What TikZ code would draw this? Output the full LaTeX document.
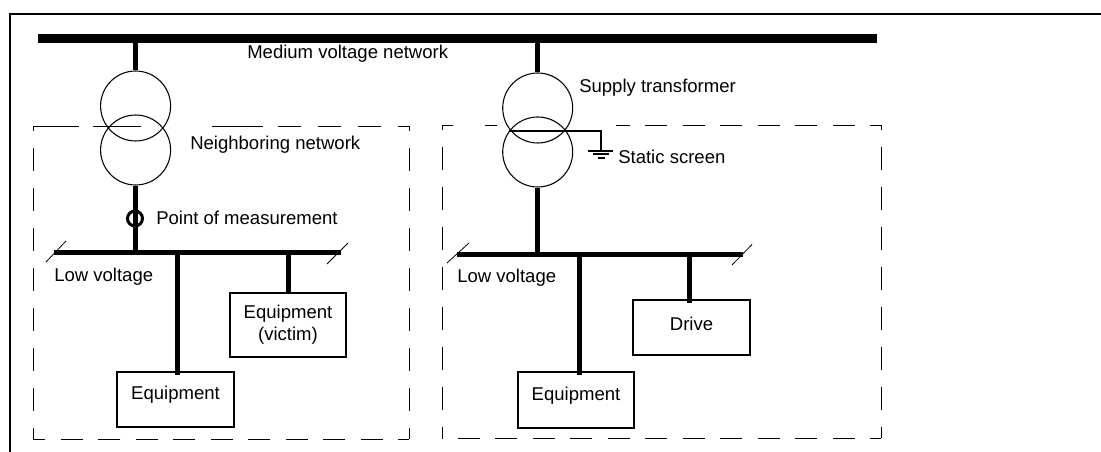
\documentclass[tikz,border=0pt]{standalone}
\usepackage{fontspec}
\setmainfont{Liberation Sans}
\usetikzlibrary{positioning}
\tikzset{
  lbl/.style={inner sep=0pt,anchor=west,font=\fontsize{13.9}{16.5}\selectfont},
  unit/.style={rectangle,draw,line width=1.5pt,inner sep=0pt,align=center,font=\fontsize{13.9}{16.5}\selectfont},
  coil/.style={circle,draw,line width=0.8pt,inner sep=0pt,minimum size=52.5pt},
  bus/.style={rectangle,fill=black,inner sep=0pt},
  stem/.style={line width=3.75pt},
  tick/.style={line width=0.6pt},
  zone/.style={line width=0.65pt},
  zonev/.style={zone,dash pattern=on 17.25pt off 12.75pt,dash phase=9pt},
  zoneh/.style={zone,dash pattern=on 16.5pt off 11.6pt,dash phase=8.25pt},
}
\begin{document}
\begin{tikzpicture}[x=0.75pt,y=-0.75pt]
  \useasboundingbox (0,0) rectangle (1101,452);
  \draw[line width=1.5pt] (1101,14) -- (10,14) -- (10,452);
  % busbars
  \node[bus,minimum width=629.25pt,minimum height=6.75pt] (mvbus) at (457.5,38.5) {};
  \node[bus,minimum width=215.25pt,minimum height=3.75pt] (lvbusa) at (197.5,252.5) {};
  \node[bus,minimum width=214.5pt,minimum height=3.75pt] (lvbusb) at (600,254.5) {};
  % transformers
  \node[coil] (tfaup) at (135.6,106) {};
  \node[coil] (tfalow) at (135.6,150) {};
  \node[coil] (tfbup) at (537.7,108) {};
  \node[coil] (tfblow) at (537.7,152) {};
  % consumers
  \node[unit,minimum width=87.75pt,minimum height=41.25pt,text depth=10pt] (eqa) at (175.5,399.5) {Equipment};
  \node[unit,minimum width=87pt,minimum height=48pt,yshift=-0.75pt] (victim) at (288,324) {Equipment\\(victim)};
  \node[unit,minimum width=87pt,minimum height=42pt,text depth=10pt] (eqb) at (576,400) {Equipment};
  \node[unit,minimum width=87.75pt,minimum height=41.25pt,text depth=6pt] (drive) at (691.5,327.5) {Drive};
  % connections
  \draw[stem] (mvbus.south -| tfaup.north) -- (tfaup.north);
  \draw[stem] (mvbus.south -| tfbup.north) -- (tfbup.north);
  \draw[stem] (tfalow.south) -- (tfalow.south |- lvbusa.north);
  \draw[stem] (tfblow.south) -- (tfblow.south |- lvbusb.north);
  \draw[stem] (lvbusa.south -| eqa.north) ++(2,0) -- ++(0,120);
  \draw[stem] (lvbusa.south -| victim.north) -- (victim.north);
  \draw[stem] (lvbusb.south -| eqb.north) ++(3.5,0) -- ++(0,118);
  \draw[stem] (lvbusb.south -| drive.north) ++(-2,0) -- ++(0,46);
  % measuring ring
  \node[circle,draw,line width=2.25pt,inner sep=0pt,minimum size=11.25pt] (ring) at (135,218.5) {};
  % cut marks
  \draw[tick] (46,262) -- (66,241);
  \draw[tick] (327,264) -- (348,243);
  \draw[tick] (447,263) -- (469,243);
  \draw[tick] (732,265) -- (752,244.5);
  % static screen
  \coordinate (screena) at (509,131);
  \coordinate (screenb) at (601,131);
  \coordinate (earth) at (601,151);
  \draw[line width=1.5pt] (screena) -- (screenb) -- (earth);
  \draw[line width=1.5pt] (earth) ++(-13,0) -- ++(25,0);
  \draw[line width=1.5pt] (earth) ++(-8,3.5) -- ++(16,0);
  \draw[line width=1.5pt] (earth) ++(-3,7) -- ++(7,0);
  % network zones
  \foreach \x in {33,409} \draw[zonev] (\x,439) -- (\x,126);
  \draw[zoneh] (409,439) -- (33,439);
  \draw[zonev] (409,126) -- (270,126);
  \draw[zone] (263,126) -- (212,126);
  \draw[zone] (141,126) -- (93,126);
  \draw[zone] (79,126) -- (33,126);
  \foreach \x in {442,881} \draw[zonev] (\x,438) -- (\x,125);
  \draw[zoneh] (881,438) -- (442,438);
  \draw[zoneh] (881,125) -- (616,125);
  \draw[zone] (497,125) -- (485,125);
  \draw[zone] (453,125) -- (442,125);
  % labels
  \node[lbl] (mvlabel) at (247,53.5) {Medium voltage network};
  \node[lbl] (nblabel) at (190,144.5) {Neighboring network};
  \node[lbl,right=9pt of ring,yshift=0.75pt] (pmlabel) {Point of measurement};
  \node[lbl] (lvlabela) at (54,277) {Low voltage};
  \node[lbl] (lvlabelb) at (457,277.5) {Low voltage};
  \node[lbl] (sulabel) at (579,88) {Supply transformer};
  \node[lbl] (sslabel) at (618,157) {Static screen};
\end{tikzpicture}
\end{document}
